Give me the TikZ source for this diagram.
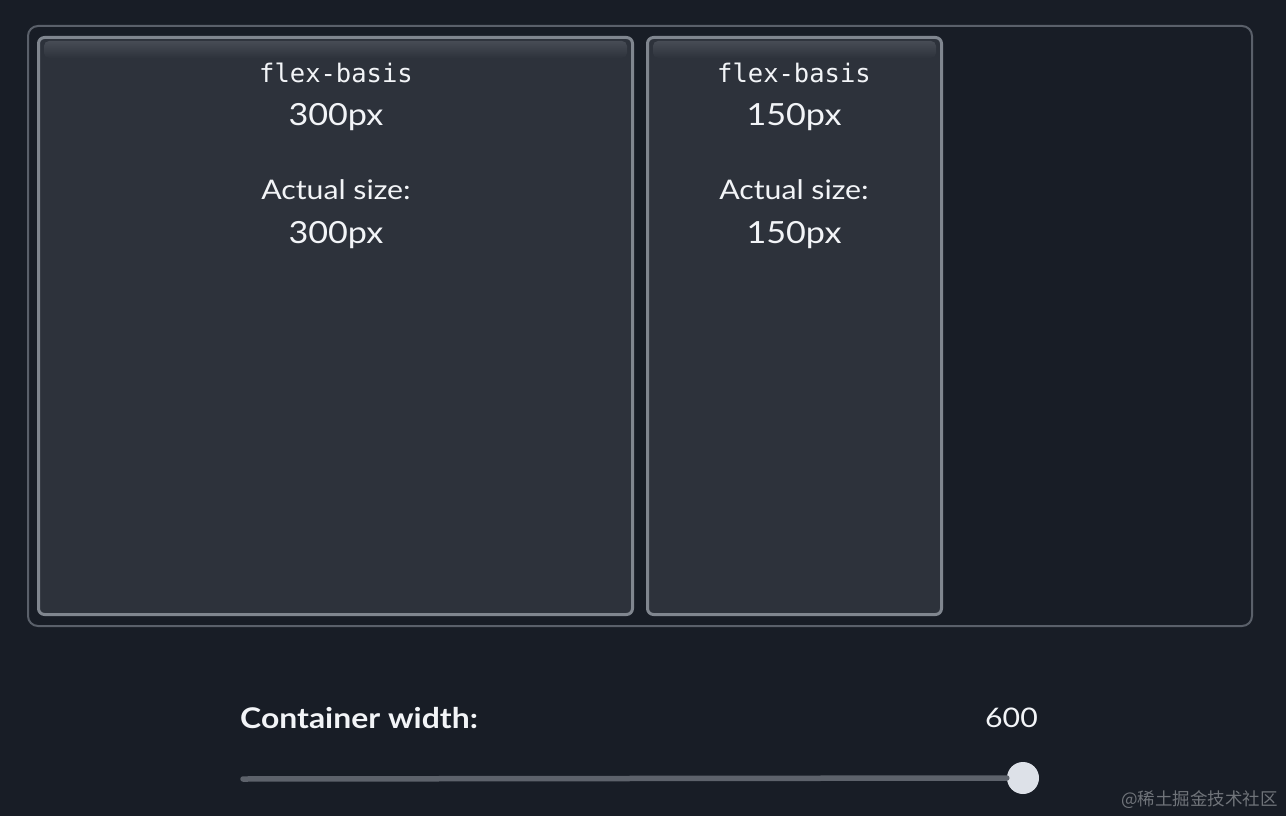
\documentclass[tikz,border=0pt]{standalone}
\usepackage{fontspec}
\setmainfont{Lato}[FakeStretch=1.12]
\setmonofont{DejaVu Sans Mono}
\newfontfamily\cjk{Noto Sans CJK SC}
\definecolor{pagebg}{HTML}{181D26}
\definecolor{framegray}{HTML}{5A606A}
\definecolor{itemfill}{HTML}{2D323B}
\definecolor{itemline}{HTML}{80868F}
\definecolor{shine}{HTML}{474C55}
\definecolor{txt}{HTML}{F2F4F7}
\definecolor{track}{HTML}{5D626B}
\definecolor{knob}{HTML}{DDE1E8}
\definecolor{mark}{HTML}{70747A}

\begin{document}
\begin{tikzpicture}[x=1pt,y=-1pt,
	item/.style={draw=itemline,line width=3pt,fill=itemfill,rounded corners=6pt},
	basis/.style={anchor=base,text=txt,font=\ttfamily\fontsize{25.5}{30}\selectfont},
	size/.style={anchor=base,text=txt,font=\fontsize{30.5}{36}\selectfont},
	caption/.style={anchor=base,text=txt,font=\fontsize{27}{30}\selectfont}]
	\fill[pagebg] (0,0) rectangle (1286,816);
	\useasboundingbox (0,0) rectangle (1286,816);
	\draw[framegray,line width=2pt,rounded corners=10pt] (28,26) rectangle (1252,626);
	% items
	\draw[item] (38.5,37.5) rectangle (632.5,614.5);
	\draw[item] (647.5,37.5) rectangle (941.5,614.5);
	\shade[top color=shine,bottom color=itemfill,rounded corners=5pt] (44,41) rectangle (627,58);
	\shade[top color=shine,bottom color=itemfill,rounded corners=5pt] (653,41) rectangle (936,58);
	\node[basis] (B1) at (336,82) {flex-basis};
	\node[size] (V1) at (336,125) {300px};
	\node[caption] (A1) at (336,199) {Actual size:};
	\node[size] (S1) at (336,243) {300px};
	\node[basis] (B2) at (794,82) {flex-basis};
	\node[size] (V2) at (794,125) {150px};
	\node[caption] (A2) at (794,199) {Actual size:};
	\node[size] (S2) at (794,243) {150px};
	% slider
	\node[anchor=base west,text=txt,font=\bfseries\fontsize{28.5}{34}\selectfont,inner sep=0pt] (label) at (240,728) {Container width:};
	\node[anchor=base east,text=txt,font=\fontsize{27}{32}\selectfont,inner sep=0pt] (num) at (1038,727) {600};
	\coordinate (start) at (243,779);
	\node[circle,fill=knob,minimum size=32pt,inner sep=0pt] (thumb) at (1023,778) {};
	\draw[track,line width=5.5pt,line cap=round] (start) -- (thumb.west);
	\node[anchor=base east,text=mark,font=\cjk\fontsize{17.5}{20}\selectfont,inner sep=0pt] (wm) at (1278,805) {@稀土掘金技术社区};
\end{tikzpicture}
\end{document}
